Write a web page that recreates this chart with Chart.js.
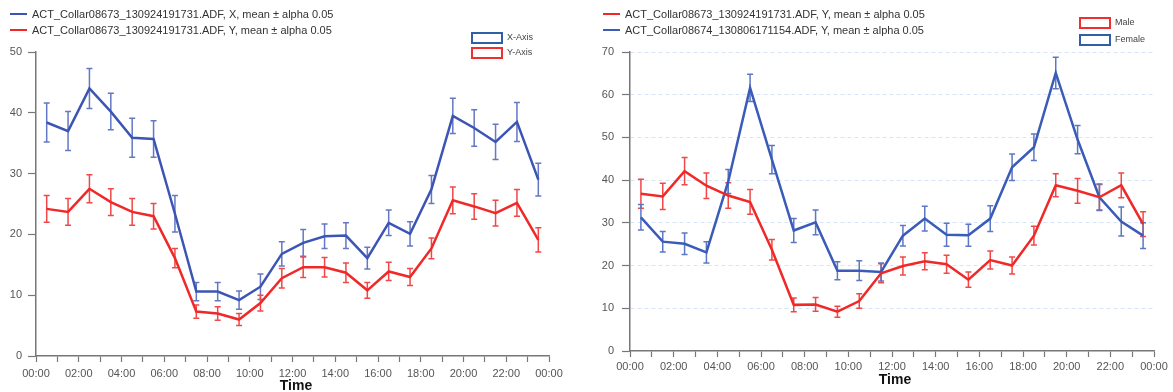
<!DOCTYPE html>
<html>
<head>
<meta charset="utf-8">
<script src="https://cdn.jsdelivr.net/npm/chart.js@4.4.0/dist/chart.umd.min.js"></script>
<style>
  html,body{margin:0;padding:0;background:#fff;width:1173px;height:392px;overflow:hidden;font-family:"Liberation Sans",Arial,sans-serif}
  canvas{position:absolute;top:0}
  .lg{position:absolute;font-size:11px;color:#333;white-space:nowrap;line-height:13px}
  .lg i{display:inline-block;width:17px;height:2px;vertical-align:middle;margin-right:5px;position:relative;top:-1px}
  .box{position:absolute;width:28px;height:8px;border:2px solid}
  .bt{position:absolute;font-size:9px;color:#444;line-height:10px}
  .ttl{position:absolute;font-weight:bold;font-size:14px;color:#111;transform:translate(-50%,-50%)}
</style>
</head>
<body>
<canvas id="c1" width="585" height="392" style="left:0;width:585px;height:392px"></canvas>
<canvas id="c2" width="583" height="392" style="left:590px;width:583px;height:392px"></canvas>

<div class="lg" style="left:10px;top:8px"><i style="background:#3c55b4"></i>ACT_Collar08673_130924191731.ADF, X, mean ± alpha 0.05</div>
<div class="lg" style="left:10px;top:24px"><i style="background:#f02828"></i>ACT_Collar08673_130924191731.ADF, Y, mean ± alpha 0.05</div>
<div class="box" style="left:471px;top:32px;border-color:#2f5fa8"></div><div class="bt" style="left:507px;top:32px">X-Axis</div>
<div class="box" style="left:471px;top:47px;border-color:#f03030"></div><div class="bt" style="left:507px;top:47px">Y-Axis</div>
<div class="ttl" style="left:296px;top:385px">Time</div>

<div class="lg" style="left:603px;top:8px"><i style="background:#f02828"></i>ACT_Collar08673_130924191731.ADF, Y, mean ± alpha 0.05</div>
<div class="lg" style="left:603px;top:24px"><i style="background:#3a5cb8"></i>ACT_Collar08674_130806171154.ADF, Y, mean ± alpha 0.05</div>
<div class="box" style="left:1079px;top:17px;border-color:#f03030"></div><div class="bt" style="left:1115px;top:17px">Male</div>
<div class="box" style="left:1079px;top:34px;border-color:#2f5fa8"></div><div class="bt" style="left:1115px;top:34px">Female</div>
<div class="ttl" style="left:895px;top:379px">Time</div>

<script>
// half-hour bins (hours)
const times = [0.5, 1.5, 2.5, 3.5, 4.5, 5.5, 6.5, 7.5, 8.5, 9.5, 10.5, 11.5,
               12.5, 13.5, 14.5, 15.5, 16.5, 17.5, 18.5, 19.5, 20.5, 21.5, 22.5, 23.5];

// left chart: collar 08673, X and Y axis
const leftX    = [38.4, 37.0, 44.0, 40.2, 35.9, 35.7, 23.4, 10.6, 10.6, 9.2, 11.4, 16.8,
                  18.6, 19.7, 19.8, 16.1, 21.9, 20.1, 27.4, 39.5, 37.5, 35.2, 38.5, 29.0];
const leftXErr = [3.2, 3.2, 3.3, 3.0, 3.2, 3.0, 3.0, 1.5, 1.5, 1.5, 2.1, 2.0,
                  2.2, 2.0, 2.1, 1.8, 2.1, 2.0, 2.3, 2.9, 3.0, 2.9, 3.2, 2.7];
const leftY    = [24.2, 23.7, 27.5, 25.3, 23.7, 23.0, 16.1, 7.3, 7.0, 6.0, 8.7, 12.8,
                  14.6, 14.6, 13.7, 10.8, 13.9, 13.0, 17.7, 25.6, 24.6, 23.5, 25.2, 19.1];
const leftYErr = [2.2, 2.2, 2.3, 2.2, 2.2, 2.1, 1.6, 1.1, 1.1, 1.0, 1.3, 1.6,
                  1.7, 1.6, 1.6, 1.3, 1.5, 1.4, 1.7, 2.2, 2.1, 2.1, 2.2, 2.0];

// right chart: male (08673) vs female (08674), Y axis
const male      = [36.8, 36.2, 42.1, 38.7, 36.4, 34.9, 23.7, 10.8, 10.9, 9.2, 11.7, 18.2,
                   19.9, 21.0, 20.3, 16.7, 21.3, 20.0, 27.0, 38.8, 37.5, 36.0, 38.8, 29.7];
const maleErr   = [3.4, 3.1, 3.2, 3.0, 3.0, 2.9, 2.4, 1.6, 1.6, 1.3, 1.7, 2.2,
                   2.1, 2.0, 2.1, 1.8, 2.1, 2.0, 2.2, 2.7, 2.9, 3.0, 2.9, 2.9];
const female    = [31.3, 25.6, 25.1, 23.1, 39.7, 61.6, 44.8, 28.2, 30.1, 18.8, 18.8, 18.5,
                   27.0, 31.0, 27.2, 27.1, 31.0, 43.0, 47.7, 65.1, 49.5, 36.0, 30.3, 27.0];
const femaleErr = [3.0, 2.4, 2.5, 2.5, 2.8, 3.2, 3.3, 2.8, 2.9, 2.1, 2.3, 2.1,
                   2.4, 2.9, 2.7, 2.6, 3.0, 3.1, 3.1, 3.7, 3.3, 3.1, 3.4, 3.0];

const BLUE = '#3c55b4', BLUE_ERR = '#6478c4', RED = '#f02828', RED_ERR = '#f04848';
const AXIS = '#777', TICK_TXT = '#555';

function pts(vals) { return vals.map((v, i) => ({ x: times[i], y: v })); }
function hh(v) { return String(v % 24).padStart(2, '0') + ':00'; }

// error bars drawn from dataset.errors through the chart scales
const errorBars = {
  id: 'errorBars',
  beforeDatasetsDraw(chart) {
    const { ctx, scales: { x, y } } = chart;
    chart.data.datasets.forEach(ds => {
      if (!ds.errors) return;
      ctx.save();
      ctx.strokeStyle = ds.errorColor || ds.borderColor;
      ctx.lineWidth = 1.5;
      ds.data.forEach((p, i) => {
        const e = ds.errors[i];
        const px = x.getPixelForValue(p.x);
        const y1 = y.getPixelForValue(p.y - e), y2 = y.getPixelForValue(p.y + e);
        ctx.beginPath();
        ctx.moveTo(px, y1); ctx.lineTo(px, y2);
        ctx.moveTo(px - 3, y1); ctx.lineTo(px + 3, y1);
        ctx.moveTo(px - 3, y2); ctx.lineTo(px + 3, y2);
        ctx.stroke();
      });
      ctx.restore();
    });
  }
};

function ds(label, vals, errs, color, errColor) {
  return {
    label, data: pts(vals), errors: errs, errorColor: errColor,
    borderColor: color, backgroundColor: color, borderWidth: 2.5,
    pointRadius: 0, tension: 0, fill: false,
  };
}

function makeChart(id, datasets, o) {
  return new Chart(document.getElementById(id), {
    type: 'line',
    data: { datasets },
    options: {
      responsive: false,
      animation: false,
      layout: { padding: { left: 0, right: o.padRight, top: 52, bottom: 0 } },
      plugins: { legend: { display: false }, tooltip: { enabled: false } },
      scales: {
        x: {
          type: 'linear', min: 0, max: 24,
          afterFit: s => { s.height = o.xHeight; },
          ticks: {
            stepSize: 1, autoSkip: false, maxRotation: 0, padding: o.xPad,
            color: TICK_TXT, font: { size: 11, family: '"Liberation Sans", Arial' },
            callback: v => (v % 2 === 0 ? hh(v) : ''),
          },
          grid: { drawOnChartArea: false, drawTicks: true, tickLength: 6, tickColor: AXIS, tickWidth: 1.2 },
          border: { color: AXIS, width: 1.5 },
        },
        y: {
          min: 0, max: o.yMax,
          afterFit: s => { s.width = o.yWidth; },
          ticks: {
            stepSize: 10, padding: o.yPad,
            color: TICK_TXT, font: { size: 11, family: '"Liberation Sans", Arial' },
          },
          grid: {
            drawOnChartArea: o.grid, tickLength: 8, tickColor: AXIS, tickWidth: 1.2,
            color: c => (c.tick && c.tick.value === 0 ? 'rgba(0,0,0,0)' : 'rgba(170,195,235,0.45)'),
          },
          border: { color: AXIS, width: 1.5, dash: o.grid ? [4, 3] : [] },
        },
      },
    },
    plugins: [errorBars],
  });
}

makeChart('c1', [
  ds('X', leftX, leftXErr, BLUE, BLUE_ERR),
  ds('Y', leftY, leftYErr, RED, RED_ERR),
], { padRight: 36, xHeight: 36, xPad: 5, yWidth: 36, yPad: 6, yMax: 50, grid: false });

makeChart('c2', [
  ds('Male', male, maleErr, RED, RED_ERR),
  ds('Female', female, femaleErr, '#3a5cb8', '#5c78c4'),
], { padRight: 19, xHeight: 41, xPad: 3, yWidth: 40, yPad: 8, yMax: 70, grid: true });
</script>
</body>
</html>
